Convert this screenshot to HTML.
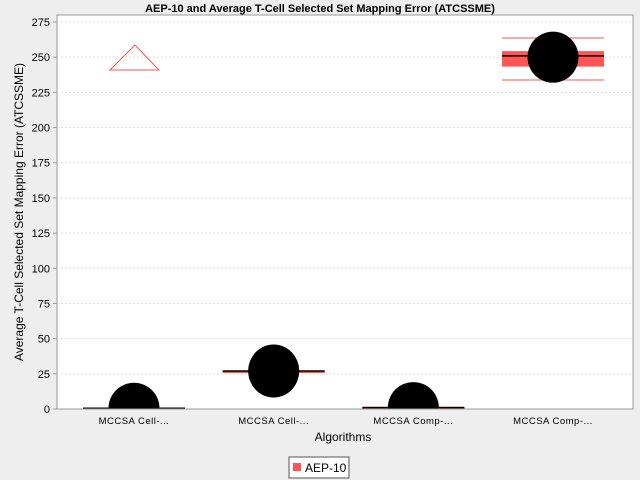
<!DOCTYPE html>
<html><head><meta charset="utf-8"><style>
body{margin:0;background:#eeeeee;}
svg{display:block;font-family:"Liberation Sans",sans-serif;}
</style></head><body>
<svg id="chart" width="640" height="480">
<defs><clipPath id="plotclip"><rect x="57" y="15" width="576" height="394"/></clipPath></defs>
<rect x="0" y="0" width="640" height="480" fill="#eeeeee"/>
<text x="320" y="12" text-anchor="middle" font-size="11" font-weight="bold">AEP-10 and Average T-Cell Selected Set Mapping Error (ATCSSME)</text>
<rect x="57" y="15" width="576" height="394" fill="#ffffff" stroke="#999"/>
<g id="grid"></g>
<g id="yaxis"></g>
<g id="xaxis"></g>
<g id="marks" clip-path="url(#plotclip)"></g>
<line x1="57" x2="633" y1="409" y2="409" stroke="#999"/>
<text transform="translate(23,212) rotate(-90)" text-anchor="middle" font-size="12">Average T-Cell Selected Set Mapping Error (ATCSSME)</text>
<text x="343" y="441" text-anchor="middle" font-size="12">Algorithms</text>
<g>
<rect x="289" y="457" width="60" height="21" fill="#fff" stroke="#555"/>
<rect x="293" y="463" width="8" height="8" fill="#ff5555"/>
<text x="305" y="472" font-size="12">AEP-10</text>
</g>
</svg>
<script>
const categories=["MCCSA Cell-...","MCCSA Cell-...","MCCSA Comp-...","MCCSA Comp-..."];
const whiskerMin=[0.3,27,0.8,233.8];
const q1=[0.3,27,0.8,243.3];
const medians=[0.5,27,1,250.9];
const q3=[0.7,27,1.2,254.3];
const whiskerMax=[0.7,27,1.2,263.6];
const means=[0.5,27,1,250];
const yTicks=[0,25,50,75,100,125,150,175,200,225,250,275];
const NS="http://www.w3.org/2000/svg";
const top0=409,scale=387/275;
function y(v){return top0-v*scale;}
function cx(i){return 134+i*139.67;}
function mk(tag,attrs,parent){const e=document.createElementNS(NS,tag);for(const k in attrs)e.setAttribute(k,attrs[k]);document.getElementById(parent).appendChild(e);return e;}
yTicks.forEach(t=>{
 const g=mk('line',{x1:57,x2:633,y1:y(t),y2:y(t),stroke:'#ddd','stroke-dasharray':'2,2'},'grid');
 
 
 const tk=mk('line',{x1:53,x2:57,y1:y(t),y2:y(t),stroke:'#999'},'yaxis');
 
 
 const l=mk('text',{x:50,y:y(t)+4,'text-anchor':'end','font-size':11},'yaxis');
 l.textContent=t;
 
 
});
const bw=102;
categories.forEach((c,i)=>{
 const l=mk('text',{x:cx(i),y:424,'text-anchor':'middle','font-size':9.5,'letter-spacing':'0.5'},'xaxis');
 l.textContent=c;
 
 
 const x0=cx(i)-bw/2,x1=cx(i)+bw/2;
 const g=mk('g',{},'marks');
 
 
 const gid='b'+i;g.id=gid;
 mk('line',{x1:x0,x2:x1,y1:y(whiskerMax[i]),y2:y(whiskerMax[i]),stroke:'#ff5555'},gid);
 mk('line',{x1:x0,x2:x1,y1:y(whiskerMin[i]),y2:y(whiskerMin[i]),stroke:'#ff5555'},gid);
 const h=Math.max(y(q1[i])-y(q3[i]),2);
 mk('rect',{x:x0,y:y(q3[i]),width:bw,height:h,fill:'#ff5555'},gid);
 mk('line',{x1:x0,x2:x1,y1:y(medians[i]),y2:y(medians[i]),stroke:'#000','stroke-width':1.5},gid);
 mk('ellipse',{cx:cx(i),cy:y(means[i]),rx:25.5,ry:(i==1?26.5:25.5),fill:'#000'},gid);
});
const tri=mk('polygon',{points:'110,70 135,45 159,70',fill:'none',stroke:'#ff5555'},'marks');


</script>
</body></html>
